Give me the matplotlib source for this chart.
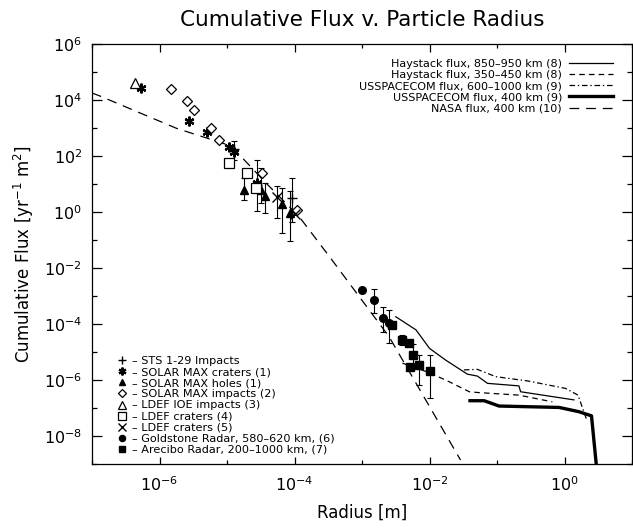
"""Cumulative debris flux against particle radius, with in-situ and radar data."""

import numpy as np
import matplotlib

matplotlib.use("Agg")
import matplotlib.pyplot as plt
from matplotlib.ticker import FixedLocator, NullFormatter, FuncFormatter

plt.rcParams["font.family"] = ["DejaVu Sans"]
plt.rcParams["mathtext.fontset"] = "dejavusans"
plt.rcParams["lines.scale_dashes"] = False

# --- measured points: log10 radius [m], log10 flux [yr^-1 m^-2] ------------
# error-bar ends (log10 flux); None where a point has no bar
sts_r = [-4.90, -4.56, -4.03]
sts_f = [2.25, 0.96, 0.49]
sts_lo = [1.86, 0.05, -0.35]
sts_hi = [2.55, 1.86, 1.20]

smm_craters_r = [-6.27, -5.57, -5.29, -4.97, -4.89, -4.56]
smm_craters_f = [4.42, 3.25, 2.87, 2.31, 2.15, 1.05]

smm_holes_r = [-4.75, -4.49, -4.43, -4.19, -4.07]
smm_holes_f = [0.79, 0.79, 0.57, 0.29, -0.05]
smm_holes_lo = [0.43, 0.31, -0.05, -0.74, -1.04]
smm_holes_hi = [1.21, 1.56, 1.03, 0.85, 0.76]

smm_impacts_r = [-5.83, -5.60, -5.49, -5.23, -5.12, -4.48, -3.97]
smm_impacts_f = [4.39, 3.96, 3.64, 2.99, 2.57, 1.38, 0.07]

ldef_ioe_r = [-6.365]
ldef_ioe_f = [4.60]

ldef4_r = [-4.97, -4.70, -4.57]
ldef4_f = [1.76, 1.38, 0.85]

ldef5_r = [-4.26, -3.99]
ldef5_f = [0.52, -0.07]
ldef5_lo = [-0.23, None]
ldef5_hi = [0.93, None]

goldstone_r = [-3.00, -2.82, -2.685, -2.60]
goldstone_f = [-2.80, -3.15, -3.80, -3.98]
goldstone_lo = [None, -3.60, -4.27, -4.68]
goldstone_hi = [None, -2.75, -3.38, -3.50]

arecibo_r = [-2.55, -2.41, -2.31, -2.24, -2.29, -2.16, -2.00]
arecibo_f = [-4.04, -4.57, -4.69, -5.11, -5.52, -5.46, -5.68]
arecibo_lo = [None, -4.75, None, -5.46, None, -6.18, -6.65]
arecibo_hi = [None, -4.39, None, -4.71, None, -5.11, -5.11]

# --- model / sensor flux curves -------------------------------------------
hay_high_r = [-2.50, -2.20, -2.00, -1.76, -1.44, -1.29, -1.14, -0.675, -0.65, 0.14]
hay_high_f = [-3.74, -4.21, -4.87, -5.29, -5.79, -5.86, -6.12, -6.21, -6.42, -6.71]

hay_low_r = [-2.40, -2.00, -1.71, -1.41, -1.27, -0.675, -0.18]
hay_low_f = [-5.40, -5.74, -6.06, -6.42, -6.45, -6.54, -6.78]

usspc_high_r = [-1.49, -1.29, -1.02, -0.53, 0.015, 0.20, 0.33]
usspc_high_f = [-5.64, -5.62, -5.88, -6.04, -6.30, -6.54, -7.43]

usspc_low_r = [-1.40, -1.19, -0.97, -0.08, 0.21, 0.40, 0.47]
usspc_low_f = [-6.74, -6.74, -6.93, -6.98, -7.13, -7.28, -9.00]

nasa_r = [-7.00, -6.88, -5.75, -4.94, -4.42, -3.93, -3.48, -2.60, -1.54]
nasa_f = [4.25, 4.14, 2.99, 2.36, 1.03, -0.17, -1.60, -4.45, -8.86]


def p10(v):
    return np.power(10.0, np.asarray(v, dtype=float))


def add_bars(ax, r, f, lo, hi):
    keep = [i for i, v in enumerate(lo) if v is not None]
    x = p10([r[i] for i in keep])
    y = p10([f[i] for i in keep])
    ylo = p10([lo[i] for i in keep])
    yhi = p10([hi[i] for i in keep])
    ax.errorbar(x, y, yerr=[y - ylo, yhi - y], fmt="none", ecolor="black",
                elinewidth=0.8, capsize=2.5, capthick=0.8, zorder=2)


fig = plt.figure(figsize=(6.33, 5.30), dpi=100)
ax = fig.add_axes([92 / 633, 66 / 530, 540 / 633, 420 / 530])

ax.set_xscale("log")
ax.set_yscale("log")
ax.set_xlim(1e-7, 1e1)
ax.set_ylim(1e-9, 1e6)

# flux curves
lw = 0.9
curves = [
    ax.plot(p10(hay_high_r), p10(hay_high_f), color="black", lw=lw,
            label="Haystack flux, 850\u2013950 km (8)")[0],
    ax.plot(p10(hay_low_r), p10(hay_low_f), color="black", lw=lw, dashes=(4, 3),
            label="Haystack flux, 350\u2013450 km (8)")[0],
    ax.plot(p10(usspc_high_r), p10(usspc_high_f), color="black", lw=lw,
            dashes=(4, 2, 1, 2), label="USSPACECOM flux, 600\u20131000 km (9)")[0],
    ax.plot(p10(usspc_low_r), p10(usspc_low_f), color="black", lw=2.4,
            label="USSPACECOM flux, 400 km (9)")[0],
    ax.plot(p10(nasa_r), p10(nasa_f), color="black", lw=lw, dashes=(7, 5),
            label="NASA flux, 400 km (10)")[0],
]

# error bars
add_bars(ax, sts_r, sts_f, sts_lo, sts_hi)
add_bars(ax, smm_holes_r, smm_holes_f, smm_holes_lo, smm_holes_hi)
add_bars(ax, ldef5_r, ldef5_f, ldef5_lo, ldef5_hi)
add_bars(ax, goldstone_r, goldstone_f, goldstone_lo, goldstone_hi)
add_bars(ax, arecibo_r, arecibo_f, arecibo_lo, arecibo_hi)

mk = dict(ls="none", color="black", zorder=3)
points = [
    ax.plot(p10(sts_r), p10(sts_f), marker="+", ms=7, mew=1.0,
            label="\u2013 STS 1-29 Impacts", **mk)[0],
    ax.plot(p10(smm_craters_r), p10(smm_craters_f), marker=(6, 2, 0), ms=7, mew=1.6,
            label="\u2013 SOLAR MAX craters (1)", **mk)[0],
    ax.plot(p10(smm_holes_r), p10(smm_holes_f), marker="^", ms=5.5,
            label="\u2013 SOLAR MAX holes (1)", **mk)[0],
    ax.plot(p10(smm_impacts_r), p10(smm_impacts_f), marker="D", ms=5, mfc="white",
            mew=0.9, label="\u2013 SOLAR MAX impacts (2)", **mk)[0],
    ax.plot(p10(ldef_ioe_r), p10(ldef_ioe_f), marker="^", ms=7, mfc="white",
            mew=0.9, label="\u2013 LDEF IOE impacts (3)", **mk)[0],
    ax.plot(p10(ldef4_r), p10(ldef4_f), marker="s", ms=7, mfc="white",
            mew=0.9, label="\u2013 LDEF craters (4)", **mk)[0],
    ax.plot(p10(ldef5_r), p10(ldef5_f), marker="x", ms=6.5, mew=1.0,
            label="\u2013 LDEF craters (5)", **mk)[0],
    ax.plot(p10(goldstone_r), p10(goldstone_f), marker="o", ms=5.5,
            label="\u2013 Goldstone Radar, 580\u2013620 km, (6)", **mk)[0],
    ax.plot(p10(arecibo_r), p10(arecibo_f), marker="s", ms=5.5,
            label="\u2013 Arecibo Radar, 200\u20131000 km, (7)", **mk)[0],
]

# ticks: every decade, labels on every second one
def decade_label(v, pos):
    e = int(round(np.log10(v)))
    return r"$10^{%d}$" % e

ax.xaxis.set_major_locator(FixedLocator(p10([-6, -4, -2, 0])))
ax.xaxis.set_minor_locator(FixedLocator(p10([-7, -5, -3, -1, 1])))
ax.yaxis.set_major_locator(FixedLocator(p10([-8, -6, -4, -2, 0, 2, 4, 6])))
ax.yaxis.set_minor_locator(FixedLocator(p10([-9, -7, -5, -3, -1, 1, 3, 5])))
ax.xaxis.set_major_formatter(FuncFormatter(decade_label))
ax.yaxis.set_major_formatter(FuncFormatter(decade_label))
ax.xaxis.set_minor_formatter(NullFormatter())
ax.yaxis.set_minor_formatter(NullFormatter())

ax.tick_params(axis="both", which="both", direction="in", top=True, right=True,
               width=0.9, labelsize=11.5)
ax.tick_params(axis="x", which="major", length=5.4, pad=8)
ax.tick_params(axis="x", which="minor", length=2.7)
ax.tick_params(axis="y", which="major", length=7.2, pad=7)
ax.tick_params(axis="y", which="minor", length=3.6)
for s in ax.spines.values():
    s.set_linewidth(0.9)

ax.set_xlabel("Radius [m]", fontsize=12, labelpad=7)
ax.set_ylabel(r"Cumulative Flux [yr$^{-1}$ m$^{2}$]", fontsize=12, labelpad=6)
ax.set_title("Cumulative Flux v. Particle Radius", fontsize=15.5, pad=13)

leg_lines = ax.legend(handles=curves, loc="upper right", markerfirst=False,
                      frameon=False, fontsize=8, handlelength=4.0,
                      handletextpad=0.6, labelspacing=0.1, borderpad=0,
                      borderaxespad=0,
                      bbox_to_anchor=((613 - 92) / 540, 1 - (59 - 44) / 420))
ax.add_artist(leg_lines)
ax.legend(handles=points, loc="lower left", frameon=False, fontsize=8.1,
          handlelength=0.95, handletextpad=0.45, labelspacing=0.1, borderpad=0,
          borderaxespad=0, markerscale=0.8,
          bbox_to_anchor=((116.5 - 92) / 540, (464 - 455) / 420))

fig.savefig("out.png", dpi=100)
